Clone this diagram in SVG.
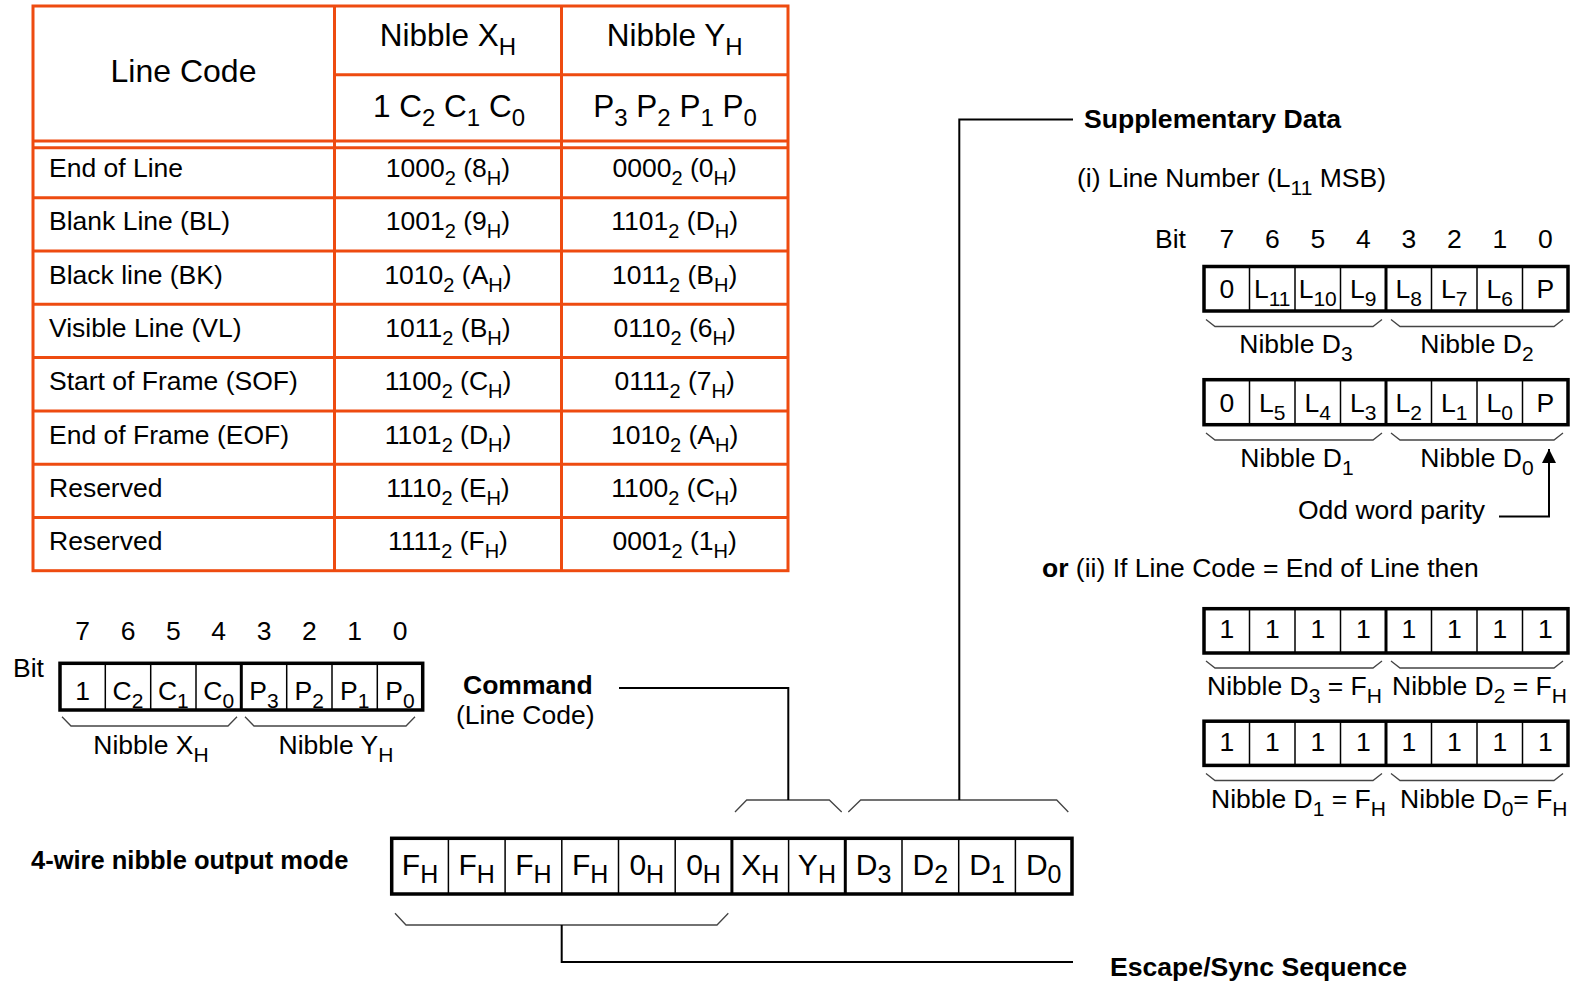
<svg xmlns="http://www.w3.org/2000/svg" width="1575" height="983" viewBox="0 0 1575 983">
<style>
text{font-family:"Liberation Sans",Arial,Helvetica,sans-serif;font-size:26.5px;fill:#000}
.b{font-weight:bold}
.m{text-anchor:middle}
.h1{font-size:32px}
.h2{font-size:31.5px}
.sq{font-size:30px}
.s{font-size:21px}
.tl{fill:none;stroke:#EE4B10;stroke-width:3}
.box{fill:#fff;stroke:#000;stroke-width:3.5}
.dv{stroke:#000;stroke-width:1.5}
.dvb{stroke:#000;stroke-width:3}
.br{fill:none;stroke:#444;stroke-width:1.3}
.cn{fill:none;stroke:#000;stroke-width:2}
</style>
<defs>
<marker id="ah" viewBox="0 0 10 10" refX="10" refY="5" markerWidth="14" markerHeight="14" markerUnits="userSpaceOnUse" orient="auto">
<path d="M0,0 L10,5 L0,10 z" fill="#000"/>
</marker>
</defs>
<rect width="1575" height="983" fill="#fff"/>

<g id="table">
<rect class="tl" x="33" y="6" width="755" height="564.7"/>
<line class="tl" x1="334.5" y1="6" x2="334.5" y2="570.7"/>
<line class="tl" x1="561.5" y1="6" x2="561.5" y2="570.7"/>
<line class="tl" x1="334.5" y1="74.7" x2="788" y2="74.7"/>
<line class="tl" x1="33" y1="141" x2="788" y2="141"/>
<line class="tl" x1="33" y1="147.7" x2="788" y2="147.7"/>
<line class="tl" x1="33" y1="197.7" x2="788" y2="197.7"/>
<line class="tl" x1="33" y1="251" x2="788" y2="251"/>
<line class="tl" x1="33" y1="304.3" x2="788" y2="304.3"/>
<line class="tl" x1="33" y1="357.6" x2="788" y2="357.6"/>
<line class="tl" x1="33" y1="410.9" x2="788" y2="410.9"/>
<line class="tl" x1="33" y1="464.2" x2="788" y2="464.2"/>
<line class="tl" x1="33" y1="517.5" x2="788" y2="517.5"/>
<text class="h1 m" x="183.5" y="82">Line Code</text>
<text class="h2 m" x="448" y="46">Nibble X<tspan dy="9" font-size="24">H</tspan></text>
<text class="h2 m" x="674.7" y="46">Nibble Y<tspan dy="9" font-size="24">H</tspan></text>
<text class="h2 m" x="449" y="117">1 C<tspan dy="9" font-size="24">2</tspan><tspan dy="-9"> C</tspan><tspan dy="9" font-size="24">1</tspan><tspan dy="-9"> C</tspan><tspan dy="9" font-size="24">0</tspan></text>
<text class="h2 m" x="675" y="117">P<tspan dy="9" font-size="24">3</tspan><tspan dy="-9"> P</tspan><tspan dy="9" font-size="24">2</tspan><tspan dy="-9"> P</tspan><tspan dy="9" font-size="24">1</tspan><tspan dy="-9"> P</tspan><tspan dy="9" font-size="24">0</tspan></text>

<text x="49" y="177">End of Line</text>
<text x="49" y="230.3">Blank Line (BL)</text>
<text x="49" y="283.6">Black line (BK)</text>
<text x="49" y="336.9">Visible Line (VL)</text>
<text x="49" y="390.2">Start of Frame (SOF)</text>
<text x="49" y="443.5">End of Frame (EOF)</text>
<text x="49" y="496.8">Reserved</text>
<text x="49" y="550.1">Reserved</text>

<text class="m" x="448" y="177">1000<tspan dy="8" font-size="20">2</tspan><tspan dy="-8"> (8</tspan><tspan dy="8" font-size="20">H</tspan><tspan dy="-8">)</tspan></text>
<text class="m" x="448" y="230.3">1001<tspan dy="8" font-size="20">2</tspan><tspan dy="-8"> (9</tspan><tspan dy="8" font-size="20">H</tspan><tspan dy="-8">)</tspan></text>
<text class="m" x="448" y="283.6">1010<tspan dy="8" font-size="20">2</tspan><tspan dy="-8"> (A</tspan><tspan dy="8" font-size="20">H</tspan><tspan dy="-8">)</tspan></text>
<text class="m" x="448" y="336.9">1011<tspan dy="8" font-size="20">2</tspan><tspan dy="-8"> (B</tspan><tspan dy="8" font-size="20">H</tspan><tspan dy="-8">)</tspan></text>
<text class="m" x="448" y="390.2">1100<tspan dy="8" font-size="20">2</tspan><tspan dy="-8"> (C</tspan><tspan dy="8" font-size="20">H</tspan><tspan dy="-8">)</tspan></text>
<text class="m" x="448" y="443.5">1101<tspan dy="8" font-size="20">2</tspan><tspan dy="-8"> (D</tspan><tspan dy="8" font-size="20">H</tspan><tspan dy="-8">)</tspan></text>
<text class="m" x="448" y="496.8">1110<tspan dy="8" font-size="20">2</tspan><tspan dy="-8"> (E</tspan><tspan dy="8" font-size="20">H</tspan><tspan dy="-8">)</tspan></text>
<text class="m" x="448" y="550.1">1111<tspan dy="8" font-size="20">2</tspan><tspan dy="-8"> (F</tspan><tspan dy="8" font-size="20">H</tspan><tspan dy="-8">)</tspan></text>

<text class="m" x="674.7" y="177">0000<tspan dy="8" font-size="20">2</tspan><tspan dy="-8"> (0</tspan><tspan dy="8" font-size="20">H</tspan><tspan dy="-8">)</tspan></text>
<text class="m" x="674.7" y="230.3">1101<tspan dy="8" font-size="20">2</tspan><tspan dy="-8"> (D</tspan><tspan dy="8" font-size="20">H</tspan><tspan dy="-8">)</tspan></text>
<text class="m" x="674.7" y="283.6">1011<tspan dy="8" font-size="20">2</tspan><tspan dy="-8"> (B</tspan><tspan dy="8" font-size="20">H</tspan><tspan dy="-8">)</tspan></text>
<text class="m" x="674.7" y="336.9">0110<tspan dy="8" font-size="20">2</tspan><tspan dy="-8"> (6</tspan><tspan dy="8" font-size="20">H</tspan><tspan dy="-8">)</tspan></text>
<text class="m" x="674.7" y="390.2">0111<tspan dy="8" font-size="20">2</tspan><tspan dy="-8"> (7</tspan><tspan dy="8" font-size="20">H</tspan><tspan dy="-8">)</tspan></text>
<text class="m" x="674.7" y="443.5">1010<tspan dy="8" font-size="20">2</tspan><tspan dy="-8"> (A</tspan><tspan dy="8" font-size="20">H</tspan><tspan dy="-8">)</tspan></text>
<text class="m" x="674.7" y="496.8">1100<tspan dy="8" font-size="20">2</tspan><tspan dy="-8"> (C</tspan><tspan dy="8" font-size="20">H</tspan><tspan dy="-8">)</tspan></text>
<text class="m" x="674.7" y="550.1">0001<tspan dy="8" font-size="20">2</tspan><tspan dy="-8"> (1</tspan><tspan dy="8" font-size="20">H</tspan><tspan dy="-8">)</tspan></text>
</g>

<g id="linecode-bits">
<text x="13" y="677">Bit</text>
<text class="m" x="82.7" y="640">7</text>
<text class="m" x="128" y="640">6</text>
<text class="m" x="173.3" y="640">5</text>
<text class="m" x="218.7" y="640">4</text>
<text class="m" x="264" y="640">3</text>
<text class="m" x="309.3" y="640">2</text>
<text class="m" x="354.7" y="640">1</text>
<text class="m" x="400" y="640">0</text>
<rect class="box" x="60" y="663.3" width="362.7" height="46.7"/>
<line class="dv" x1="105.3" y1="663.3" x2="105.3" y2="710"/>
<line class="dv" x1="150.7" y1="663.3" x2="150.7" y2="710"/>
<line class="dv" x1="196" y1="663.3" x2="196" y2="710"/>
<line class="dvb" x1="241.3" y1="663.3" x2="241.3" y2="710"/>
<line class="dv" x1="286.7" y1="663.3" x2="286.7" y2="710"/>
<line class="dv" x1="332" y1="663.3" x2="332" y2="710"/>
<line class="dv" x1="377.3" y1="663.3" x2="377.3" y2="710"/>
<text class="m" x="82.7" y="700">1</text>
<text class="m" x="128" y="700">C<tspan class="s" dy="8">2</tspan></text>
<text class="m" x="173.3" y="700">C<tspan class="s" dy="8">1</tspan></text>
<text class="m" x="218.7" y="700">C<tspan class="s" dy="8">0</tspan></text>
<text class="m" x="264" y="700">P<tspan class="s" dy="8">3</tspan></text>
<text class="m" x="309.3" y="700">P<tspan class="s" dy="8">2</tspan></text>
<text class="m" x="354.7" y="700">P<tspan class="s" dy="8">1</tspan></text>
<text class="m" x="400" y="700">P<tspan class="s" dy="8">0</tspan></text>
<path class="br" d="M62,716.7 L71,726 L228,726 L237,716.7"/>
<path class="br" d="M245,716.7 L254,726 L406,726 L415,716.7"/>
<text class="m" x="151" y="754">Nibble X<tspan class="s" dy="8">H</tspan></text>
<text class="m" x="336" y="754">Nibble Y<tspan class="s" dy="8">H</tspan></text>
</g>

<g id="command-label">
<text class="b" x="463" y="694">Command</text>
<text x="456" y="724">(Line Code)</text>
</g>

<g id="mode-label">
<text class="b" x="31" y="869" style="font-size:25.5px">4-wire nibble output mode</text>
</g>

<g id="sequence">
<rect class="box" x="391.7" y="838.3" width="680.3" height="55.7"/>
<line class="dv" x1="448.4" y1="838.3" x2="448.4" y2="894"/>
<line class="dv" x1="505.1" y1="838.3" x2="505.1" y2="894"/>
<line class="dv" x1="561.8" y1="838.3" x2="561.8" y2="894"/>
<line class="dv" x1="618.5" y1="838.3" x2="618.5" y2="894"/>
<line class="dv" x1="675.2" y1="838.3" x2="675.2" y2="894"/>
<line class="dvb" x1="731.9" y1="838.3" x2="731.9" y2="894"/>
<line class="dv" x1="788.6" y1="838.3" x2="788.6" y2="894"/>
<line class="dvb" x1="845.3" y1="838.3" x2="845.3" y2="894"/>
<line class="dv" x1="902" y1="838.3" x2="902" y2="894"/>
<line class="dv" x1="958.7" y1="838.3" x2="958.7" y2="894"/>
<line class="dv" x1="1015.4" y1="838.3" x2="1015.4" y2="894"/>
<text class="sq m" x="420" y="875">F<tspan dy="8" font-size="25">H</tspan></text>
<text class="sq m" x="476.7" y="875">F<tspan dy="8" font-size="25">H</tspan></text>
<text class="sq m" x="533.4" y="875">F<tspan dy="8" font-size="25">H</tspan></text>
<text class="sq m" x="590.1" y="875">F<tspan dy="8" font-size="25">H</tspan></text>
<text class="sq m" x="646.8" y="875">0<tspan dy="8" font-size="25">H</tspan></text>
<text class="sq m" x="703.5" y="875">0<tspan dy="8" font-size="25">H</tspan></text>
<text class="sq m" x="760.2" y="875">X<tspan dy="8" font-size="25">H</tspan></text>
<text class="sq m" x="816.9" y="875">Y<tspan dy="8" font-size="25">H</tspan></text>
<text class="sq m" x="873.6" y="875">D<tspan dy="8" font-size="25">3</tspan></text>
<text class="sq m" x="930.3" y="875">D<tspan dy="8" font-size="25">2</tspan></text>
<text class="sq m" x="987" y="875">D<tspan dy="8" font-size="25">1</tspan></text>
<text class="sq m" x="1043.7" y="875">D<tspan dy="8" font-size="25">0</tspan></text>
<path class="br" d="M735,812 L746.7,800 L829.3,800 L841.7,812"/>
<path class="br" d="M848.3,812 L860.7,800 L1056.7,800 L1068.3,812"/>
<path class="br" d="M395,913.3 L406,925 L717,925 L728.3,913.3"/>
</g>

<g id="escape-label">
<text class="b" x="1110" y="976" style="font-size:26.6px">Escape/Sync Sequence</text>
</g>

<g id="supplementary">
<text class="b" x="1084" y="128" style="font-size:26.6px">Supplementary Data</text>
<text x="1077" y="187">(i) Line Number (L<tspan class="s" dy="8">11</tspan><tspan dy="-8"> MSB)</tspan></text>
<text x="1155" y="248">Bit</text>
<text class="m" x="1226.75" y="248">7</text>
<text class="m" x="1272.25" y="248">6</text>
<text class="m" x="1317.75" y="248">5</text>
<text class="m" x="1363.25" y="248">4</text>
<text class="m" x="1408.75" y="248">3</text>
<text class="m" x="1454.25" y="248">2</text>
<text class="m" x="1499.75" y="248">1</text>
<text class="m" x="1545.25" y="248">0</text>
</g>

<g id="line-number-word1">
<rect class="box" x="1204" y="266.5" width="364" height="44.5"/>
<line class="dv" x1="1249.5" y1="266.5" x2="1249.5" y2="311"/>
<line class="dv" x1="1295" y1="266.5" x2="1295" y2="311"/>
<line class="dv" x1="1340.5" y1="266.5" x2="1340.5" y2="311"/>
<line class="dvb" x1="1386" y1="266.5" x2="1386" y2="311"/>
<line class="dv" x1="1431.5" y1="266.5" x2="1431.5" y2="311"/>
<line class="dv" x1="1477" y1="266.5" x2="1477" y2="311"/>
<line class="dv" x1="1522.5" y1="266.5" x2="1522.5" y2="311"/>
<text class="m" x="1226.75" y="298">0</text>
<text class="m" x="1272.25" y="298">L<tspan class="s" dy="8">11</tspan></text>
<text class="m" x="1317.75" y="298">L<tspan class="s" dy="8">10</tspan></text>
<text class="m" x="1363.25" y="298">L<tspan class="s" dy="8">9</tspan></text>
<text class="m" x="1408.75" y="298">L<tspan class="s" dy="8">8</tspan></text>
<text class="m" x="1454.25" y="298">L<tspan class="s" dy="8">7</tspan></text>
<text class="m" x="1499.75" y="298">L<tspan class="s" dy="8">6</tspan></text>
<text class="m" x="1545.25" y="298">P</text>
<path class="br" d="M1206,319.4 L1215,326.5 L1373,326.5 L1382,319.4"/>
<path class="br" d="M1391,319.4 L1400,326.5 L1554,326.5 L1563,319.4"/>
<text class="m" x="1296" y="353">Nibble D<tspan class="s" dy="8">3</tspan></text>
<text class="m" x="1477" y="353">Nibble D<tspan class="s" dy="8">2</tspan></text>
</g>

<g id="line-number-word2">
<rect class="box" x="1204" y="379.7" width="364" height="45"/>
<line class="dv" x1="1249.5" y1="379.7" x2="1249.5" y2="424.7"/>
<line class="dv" x1="1295" y1="379.7" x2="1295" y2="424.7"/>
<line class="dv" x1="1340.5" y1="379.7" x2="1340.5" y2="424.7"/>
<line class="dvb" x1="1386" y1="379.7" x2="1386" y2="424.7"/>
<line class="dv" x1="1431.5" y1="379.7" x2="1431.5" y2="424.7"/>
<line class="dv" x1="1477" y1="379.7" x2="1477" y2="424.7"/>
<line class="dv" x1="1522.5" y1="379.7" x2="1522.5" y2="424.7"/>
<text class="m" x="1226.75" y="411.5">0</text>
<text class="m" x="1272.25" y="411.5">L<tspan class="s" dy="8">5</tspan></text>
<text class="m" x="1317.75" y="411.5">L<tspan class="s" dy="8">4</tspan></text>
<text class="m" x="1363.25" y="411.5">L<tspan class="s" dy="8">3</tspan></text>
<text class="m" x="1408.75" y="411.5">L<tspan class="s" dy="8">2</tspan></text>
<text class="m" x="1454.25" y="411.5">L<tspan class="s" dy="8">1</tspan></text>
<text class="m" x="1499.75" y="411.5">L<tspan class="s" dy="8">0</tspan></text>
<text class="m" x="1545.25" y="411.5">P</text>
<path class="br" d="M1206,433 L1215,440 L1373,440 L1382,433"/>
<path class="br" d="M1391,433 L1400,440 L1554,440 L1563,433"/>
<text class="m" x="1297" y="467">Nibble D<tspan class="s" dy="8">1</tspan></text>
<text class="m" x="1477" y="467">Nibble D<tspan class="s" dy="8">0</tspan></text>
</g>

<g id="parity-label">
<text x="1298" y="519">Odd word parity</text>
</g>

<g id="eol-case">
<text x="1042" y="577"><tspan class="b">or</tspan> (ii) If Line Code = End of Line then</text>
</g>

<g id="eol-word1">
<rect class="box" x="1204" y="608.7" width="364" height="44.3"/>
<line class="dv" x1="1249.5" y1="608.7" x2="1249.5" y2="653"/>
<line class="dv" x1="1295" y1="608.7" x2="1295" y2="653"/>
<line class="dv" x1="1340.5" y1="608.7" x2="1340.5" y2="653"/>
<line class="dvb" x1="1386" y1="608.7" x2="1386" y2="653"/>
<line class="dv" x1="1431.5" y1="608.7" x2="1431.5" y2="653"/>
<line class="dv" x1="1477" y1="608.7" x2="1477" y2="653"/>
<line class="dv" x1="1522.5" y1="608.7" x2="1522.5" y2="653"/>
<text class="m" x="1226.75" y="638">1</text>
<text class="m" x="1272.25" y="638">1</text>
<text class="m" x="1317.75" y="638">1</text>
<text class="m" x="1363.25" y="638">1</text>
<text class="m" x="1408.75" y="638">1</text>
<text class="m" x="1454.25" y="638">1</text>
<text class="m" x="1499.75" y="638">1</text>
<text class="m" x="1545.25" y="638">1</text>
<path class="br" d="M1206,661 L1215,668 L1373,668 L1382,661"/>
<path class="br" d="M1391,661 L1400,668 L1554,668 L1563,661"/>
<text x="1207" y="695">Nibble D<tspan class="s" dy="8">3</tspan><tspan dy="-8"> = F</tspan><tspan class="s" dy="8">H</tspan></text>
<text x="1392" y="695">Nibble D<tspan class="s" dy="8">2</tspan><tspan dy="-8"> = F</tspan><tspan class="s" dy="8">H</tspan></text>
</g>

<g id="eol-word2">
<rect class="box" x="1204" y="721.2" width="364" height="44.2"/>
<line class="dv" x1="1249.5" y1="721.2" x2="1249.5" y2="765.4"/>
<line class="dv" x1="1295" y1="721.2" x2="1295" y2="765.4"/>
<line class="dv" x1="1340.5" y1="721.2" x2="1340.5" y2="765.4"/>
<line class="dvb" x1="1386" y1="721.2" x2="1386" y2="765.4"/>
<line class="dv" x1="1431.5" y1="721.2" x2="1431.5" y2="765.4"/>
<line class="dv" x1="1477" y1="721.2" x2="1477" y2="765.4"/>
<line class="dv" x1="1522.5" y1="721.2" x2="1522.5" y2="765.4"/>
<text class="m" x="1226.75" y="750.5">1</text>
<text class="m" x="1272.25" y="750.5">1</text>
<text class="m" x="1317.75" y="750.5">1</text>
<text class="m" x="1363.25" y="750.5">1</text>
<text class="m" x="1408.75" y="750.5">1</text>
<text class="m" x="1454.25" y="750.5">1</text>
<text class="m" x="1499.75" y="750.5">1</text>
<text class="m" x="1545.25" y="750.5">1</text>
<path class="br" d="M1206,773.5 L1215,780.5 L1373,780.5 L1382,773.5"/>
<path class="br" d="M1391,773.5 L1400,780.5 L1554,780.5 L1563,773.5"/>
<text x="1211" y="808">Nibble D<tspan class="s" dy="8">1</tspan><tspan dy="-8"> = F</tspan><tspan class="s" dy="8">H</tspan></text>
<text x="1400" y="808">Nibble D<tspan class="s" dy="8">0</tspan><tspan dy="-8">= F</tspan><tspan class="s" dy="8">H</tspan></text>
</g>

<g id="connectors">
<path class="cn" d="M619,688 H788.3 V800"/>
<path class="cn" d="M959.3,800 V119.5 H1073"/>
<path class="cn" d="M561.7,925 V962 H1073"/>
<path class="cn" d="M1499,516.5 H1549 V449" marker-end="url(#ah)"/>
</g>
</svg>
